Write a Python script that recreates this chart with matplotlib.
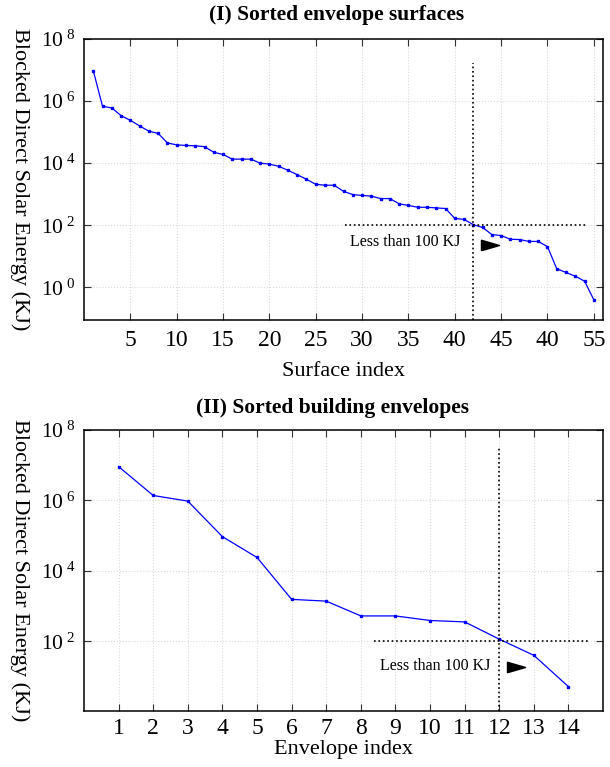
import numpy as np
import matplotlib
matplotlib.use("Agg")
import matplotlib.pyplot as plt
from matplotlib.ticker import FixedLocator, FuncFormatter

plt.rcParams['font.family'] = ['Liberation Serif', 'DejaVu Serif']
plt.rcParams['mathtext.fontset'] = 'custom'
plt.rcParams['mathtext.rm'] = 'Liberation Serif'
plt.rcParams['mathtext.default'] = 'regular'

# ---- data (log10 of blocked energy) ----
surface_index = np.arange(1, 56)
surface_log = [6.98, 5.83, 5.78, 5.53, 5.38, 5.20, 5.03, 4.96, 4.65, 4.59,
               4.57, 4.56, 4.53, 4.35, 4.28, 4.13, 4.13, 4.13, 4.00, 3.97,
               3.90, 3.77, 3.63, 3.48, 3.32, 3.29, 3.29, 3.09, 2.99, 2.96,
               2.94, 2.86, 2.86, 2.69, 2.64, 2.58, 2.58, 2.56, 2.54, 2.22,
               2.19, 2.02, 1.93, 1.70, 1.67, 1.55, 1.54, 1.48, 1.48, 1.31,
               0.60, 0.48, 0.36, 0.20, -0.40]
surface_energy = 10.0 ** np.array(surface_log)

envelope_index = np.arange(1, 15)
envelope_log = [6.96, 6.14, 5.98, 4.97, 4.38, 3.19, 3.14, 2.72, 2.72, 2.59,
                2.55, 2.06, 1.60, 0.71]
envelope_energy = 10.0 ** np.array(envelope_log)

top_xticks = [5, 10, 15, 20, 25, 30, 35, 40, 45, 50, 55]
top_xticklabels = ['5', '10', '15', '20', '25', '30', '35', '40', '45', '40', '55']
bottom_xticks = list(range(1, 15))
top_yticks = [1e0, 1e2, 1e4, 1e6, 1e8]
bottom_yticks = [1e2, 1e4, 1e6, 1e8]

threshold = 100.0
annot_text = 'Less than 100 KJ'

fig = plt.figure(figsize=(6.10, 7.67), dpi=100)
ax1 = fig.add_axes([0.1377, 0.5828, 0.851, 0.3664])
ax2 = fig.add_axes([0.1377, 0.0730, 0.851, 0.3664])

def yfmt(v, pos):
    e = int(round(np.log10(v)))
    return r'$10^{\;%d}$' % e

tri = [(-1, -0.58), (1, 0), (-1, 0.58), (-1, -0.58)]

def style(ax):
    ax.set_yscale('log')
    ax.grid(True, which='major', color='#dadada', linestyle=':', linewidth=0.8)
    ax.tick_params(which='major', direction='in', top=True, right=True,
                   length=5, width=0.8, labelsize=17, color='#333333')
    ax.tick_params(axis='x', pad=7)
    ax.tick_params(axis='y', pad=6, labelsize=15.5)
    ax.tick_params(which='minor', left=False, right=False, top=False, bottom=False)
    for s in ax.spines.values():
        s.set_linewidth(1.1)
    ax.yaxis.set_major_formatter(FuncFormatter(yfmt))
    ax.set_axisbelow(True)

# ---- top ----
ax1.plot(surface_index, surface_energy, color='#0000ff', lw=0.9,
         marker='s', ms=1.6, mfc='#0000ff', mec='#0000ff')
style(ax1)
ax1.set_xlim(0, 56)
ax1.set_ylim(10 ** -1.05, 1e8)
ax1.yaxis.set_major_locator(FixedLocator(top_yticks))
ax1.set_xticks(top_xticks)
ax1.set_xticklabels(top_xticklabels)
ax1.plot([42, 42], [10 ** -1.05, 10 ** 7.23], color='black', ls=':', lw=1.2)
ax1.plot([28.2, 54.3], [threshold, threshold], color='black', ls=':', lw=1.2)
ax1.text(28.7, 10 ** 1.45, annot_text, fontsize=11.5, va='center', ha='left')
ax1.plot([43.8], [10 ** 1.35], marker=tri, ms=13, color='black', lw=0)
ax1.set_title('(I) Sorted envelope surfaces', fontsize=15.5, fontweight='bold',
              x=0.487, pad=14)
ax1.set_xlabel('Surface index', fontsize=16, labelpad=8)
ax1.set_ylabel('Blocked Direct Solar Energy (KJ)', fontsize=16, rotation=-90,
               labelpad=22)

# ---- bottom ----
ax2.plot(envelope_index, envelope_energy, color='#0000ff', lw=0.9,
         marker='s', ms=1.6, mfc='#0000ff', mec='#0000ff')
style(ax2)
ax2.tick_params(axis='x', pad=5)
ax2.set_xlim(0, 15)
ax2.set_ylim(10 ** 0.02, 1e8)
ax2.yaxis.set_major_locator(FixedLocator(bottom_yticks))
ax2.set_xticks(bottom_xticks)
ax2.plot([12, 12], [10 ** 0.02, 10 ** 7.52], color='black', ls=':', lw=1.2)
ax2.plot([8.38, 14.58], [threshold, threshold], color='black', ls=':', lw=1.2)
ax2.text(8.55, 10 ** 1.30, annot_text, fontsize=11.5, va='center', ha='left')
ax2.plot([12.49], [10 ** 1.28], marker=tri, ms=13, color='black', lw=0)
ax2.set_title('(II) Sorted building envelopes', fontsize=15.5, fontweight='bold',
              x=0.479, pad=12)
ax2.set_xlabel('Envelope index', fontsize=16, labelpad=1)
ax2.set_ylabel('Blocked Direct Solar Energy (KJ)', fontsize=16, rotation=-90,
               labelpad=22)

fig.savefig('out.png', dpi=100)
